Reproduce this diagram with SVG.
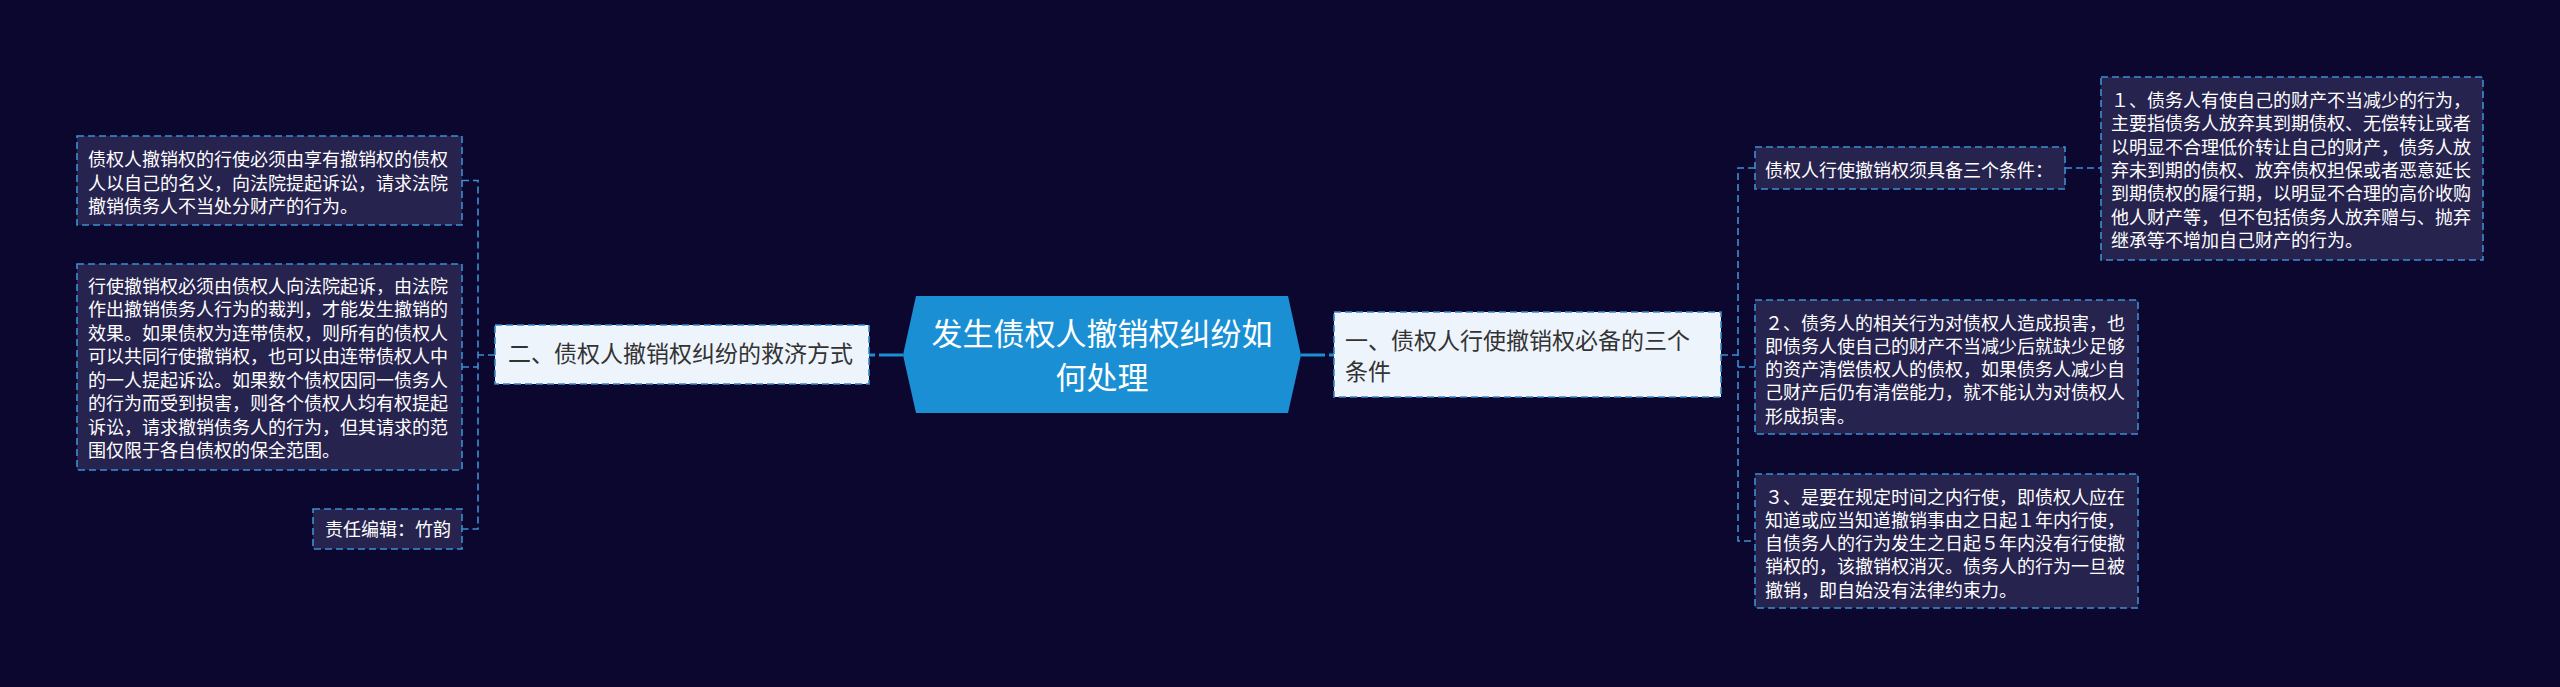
<svg xmlns="http://www.w3.org/2000/svg" width="2560" height="687" viewBox="0 0 2560 687">
<style>
.bg{fill:#0c072f}
.dark{fill:#27234f;stroke:#3b8fd2;stroke-width:1.6;stroke-dasharray:7 4}
.light{fill:#eef4fc;stroke:#3a88c8;stroke-width:1.6;stroke-dasharray:7 4}
.center{fill:#1a8fd4}
.tw{font-family:"Noto Sans CJK SC","Microsoft YaHei",sans-serif;font-size:18px;fill:#ffffff}
.td{font-family:"Noto Sans CJK SC","Microsoft YaHei",sans-serif;font-size:23px;fill:#333333}
.tc{font-family:"Noto Sans CJK SC","Microsoft YaHei",sans-serif;font-size:31px;fill:#ffffff;text-anchor:middle}
.dash{fill:none;stroke:#3b8fd2;stroke-width:1.6;stroke-dasharray:7 4}
.main{fill:none;stroke:#1a8fd4;stroke-width:3;stroke-dasharray:24 4}
</style>
<rect class="bg" x="0" y="0" width="2560" height="687"/>

<g id="connectors">
  <line class="main" x1="903" y1="355" x2="869" y2="355"/>
  <line class="main" x1="1301" y1="355" x2="1334" y2="355"/>
  <path class="dash" d="M495 355 H478 M462 180.5 H478 V529 H462 M462 367 H478"/>
  <path class="dash" d="M1721 355 H1738 M1755 168 H1738 V541 H1755 M1738 367 H1755"/>
  <path class="dash" d="M2065 168 H2101"/>
</g>

<g id="center">
  <polygon class="center" points="903,355 916,296 1288,296 1301,355 1288,413 916,413"/>
  <text class="tc" x="1102" y="345">发生债权人撤销权纠纷如</text>
  <text class="tc" x="1102" y="389">何处理</text>
</g>

<g id="left-main">
  <rect class="light" x="495" y="325" width="374" height="59"/>
  <text class="td" x="508" y="362">二、债权人撤销权纠纷的救济方式</text>
</g>

<g id="left-1">
  <rect class="dark" x="77" y="136" width="385" height="89"/>
  <text class="tw" x="88" y="166">债权人撤销权的行使必须由享有撤销权的债权</text>
  <text class="tw" x="88" y="189.5">人以自己的名义，向法院提起诉讼，请求法院</text>
  <text class="tw" x="88" y="213">撤销债务人不当处分财产的行为。</text>
</g>

<g id="left-2">
  <rect class="dark" x="77" y="264" width="385" height="206"/>
  <text class="tw" x="88" y="292.5">行使撤销权必须由债权人向法院起诉，由法院</text>
  <text class="tw" x="88" y="316">作出撤销债务人行为的裁判，才能发生撤销的</text>
  <text class="tw" x="88" y="339.5">效果。如果债权为连带债权，则所有的债权人</text>
  <text class="tw" x="88" y="363">可以共同行使撤销权，也可以由连带债权人中</text>
  <text class="tw" x="88" y="386.5">的一人提起诉讼。如果数个债权因同一债务人</text>
  <text class="tw" x="88" y="410">的行为而受到损害，则各个债权人均有权提起</text>
  <text class="tw" x="88" y="433.5">诉讼，请求撤销债务人的行为，但其请求的范</text>
  <text class="tw" x="88" y="457">围仅限于各自债权的保全范围。</text>
</g>

<g id="left-3">
  <rect class="dark" x="313" y="509" width="149" height="40"/>
  <text class="tw" x="325" y="536">责任编辑：竹韵</text>
</g>

<g id="right-main">
  <rect class="light" x="1334" y="312" width="387" height="85"/>
  <text class="td" x="1345" y="349">一、债权人行使撤销权必备的三个</text>
  <text class="td" x="1345" y="380">条件</text>
</g>

<g id="right-1">
  <rect class="dark" x="1755" y="147" width="310" height="42"/>
  <text class="tw" x="1765" y="176.5">债权人行使撤销权须具备三个条件：</text>
</g>

<g id="right-1-1">
  <rect class="dark" x="2101" y="77" width="382" height="183"/>
  <text class="tw" x="2111" y="107">１、债务人有使自己的财产不当减少的行为，</text>
  <text class="tw" x="2111" y="130.3">主要指债务人放弃其到期债权、无偿转让或者</text>
  <text class="tw" x="2111" y="153.6">以明显不合理低价转让自己的财产，债务人放</text>
  <text class="tw" x="2111" y="176.9">弃未到期的债权、放弃债权担保或者恶意延长</text>
  <text class="tw" x="2111" y="200.2">到期债权的履行期，以明显不合理的高价收购</text>
  <text class="tw" x="2111" y="223.5">他人财产等，但不包括债务人放弃赠与、抛弃</text>
  <text class="tw" x="2111" y="246.8">继承等不增加自己财产的行为。</text>
</g>

<g id="right-2">
  <rect class="dark" x="1755" y="300" width="383" height="134"/>
  <text class="tw" x="1765" y="329.5">２、债务人的相关行为对债权人造成损害，也</text>
  <text class="tw" x="1765" y="352.8">即债务人使自己的财产不当减少后就缺少足够</text>
  <text class="tw" x="1765" y="376.1">的资产清偿债权人的债权，如果债务人减少自</text>
  <text class="tw" x="1765" y="399.4">己财产后仍有清偿能力，就不能认为对债权人</text>
  <text class="tw" x="1765" y="422.7">形成损害。</text>
</g>

<g id="right-3">
  <rect class="dark" x="1755" y="474" width="383" height="134"/>
  <text class="tw" x="1765" y="503.5">３、是要在规定时间之内行使，即债权人应在</text>
  <text class="tw" x="1765" y="526.8">知道或应当知道撤销事由之日起１年内行使，</text>
  <text class="tw" x="1765" y="550.1">自债务人的行为发生之日起５年内没有行使撤</text>
  <text class="tw" x="1765" y="573.4">销权的，该撤销权消灭。债务人的行为一旦被</text>
  <text class="tw" x="1765" y="596.7">撤销，即自始没有法律约束力。</text>
</g>
</svg>
